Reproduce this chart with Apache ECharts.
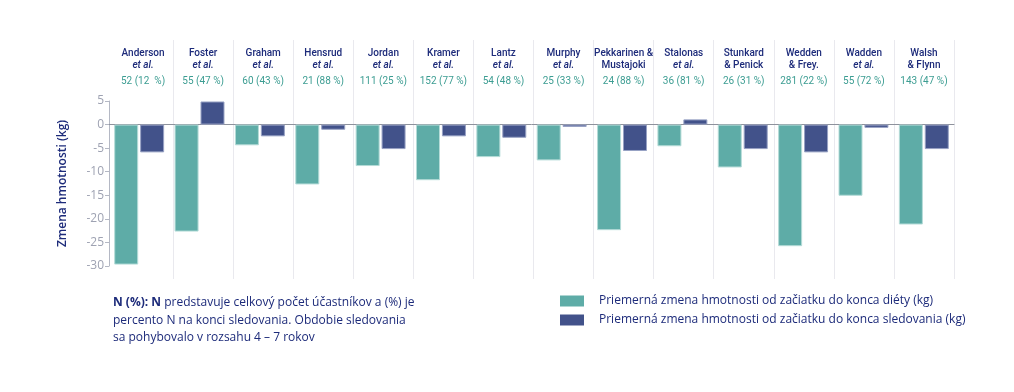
<!DOCTYPE html>
<html>
<head>
<meta charset="utf-8">
<script src="https://cdn.jsdelivr.net/npm/echarts@6/dist/echarts.min.js"></script>
<style>
html,body{margin:0;padding:0;background:#fff;}
#chart{width:1014px;height:392px;}
</style>
</head>
<body>
<div id="chart"></div>
<script>
// ---- data ----
const categories = ['Anderson','Foster','Graham','Hensrud','Jordan','Kramer','Lantz','Murphy','Pekkarinen & Mustajoki','Stalonas','Stunkard & Penick','Wedden & Frey.','Wadden','Walsh & Flynn'];
const nameLine1 = ['Anderson','Foster','Graham','Hensrud','Jordan','Kramer','Lantz','Murphy','Pekkarinen &','Stalonas','Stunkard','Wedden','Wadden','Walsh'];
const nameLine2 = ['et al.','et al.','et al.','et al.','et al.','et al.','et al.','et al.','Mustajoki','et al.','& Penick','& Frey.','et al.','& Flynn'];
const nLabels = ['52 (12  %)','55 (47 %)','60 (43 %)','21 (88 %)','111 (25 %)','152 (77 %)','54 (48 %)','25 (33 %)','24 (88 %)','36 (81 %)','26 (31 %)','281 (22 %)','55 (72 %)','143 (47 %)'];
const dietChange = [-29.7,-22.7,-4.4,-12.7,-8.8,-11.8,-6.9,-7.6,-22.4,-4.6,-9.1,-25.8,-15.1,-21.2];
const followChange = [-5.9,4.9,-2.5,-1.1,-5.2,-2.5,-2.8,-0.5,-5.6,1.1,-5.2,-5.9,-0.7,-5.2];
const yTicks = {min:-30, max:5, interval:5};
const seriesNames = ['Priemerná zmena hmotnosti od začiatku do konca diéty (kg)','Priemerná zmena hmotnosti od začiatku do konca sledovania (kg)'];
const yAxisTitle = 'Zmena hmotnosti (kg)';
const footnote = ['{b|N (%): N} predstavuje celkový počet účastníkov a (%) je','percento N na konci sledovania. Obdobie sledovania','sa pohybovalo v rozsahu 4 – 7 rokov'];

const navy = '#1d2b7a';
const teal = '#5eaca7';
const blue = '#42528a';
const tealText = '#3c9d92';
const font = '"Open Sans", "Noto Sans", sans-serif';
const headFont = 'Roboto, "Open Sans", sans-serif';

const chart = echarts.init(document.getElementById('chart'), null, {renderer:'canvas'});
chart.setOption({
  animation:false,
  textStyle:{fontFamily:font},
  title:{
    left:113, top:294, padding:0,
    text: footnote.join('\n'),
    textStyle:{
      fontFamily:font, fontSize:12, fontWeight:'normal', color:navy, lineHeight:17.5,
      rich:{ b:{fontFamily:font, fontSize:12, fontWeight:'bold', color:navy, lineHeight:17.5} }
    }
  },
  legend:{
    orient:'vertical', left:560, top:295, padding:0,
    itemWidth:24, itemHeight:11, itemGap:7,
    icon:'rect',
    itemStyle:{borderWidth:0},
    textStyle:{fontFamily:font, fontSize:12, color:navy, padding:[0,0,0,10]},
    data:seriesNames
  },
  grid:[
    {left:109, right:60, top:101, bottom:126},
    {left:113, right:60, top:40, bottom:113}
  ],
  xAxis:[
    {type:'category', gridIndex:0, data:categories,
     axisLine:{show:true, onZero:true, lineStyle:{color:'#8e929c', width:1}},
     axisTick:{show:false}, axisLabel:{show:false}, splitLine:{show:false}},
    {type:'category', gridIndex:1, data:categories, position:'top',
     axisLine:{show:false}, axisTick:{show:false},
     splitLine:{show:true, interval:function(i){return i!==0;}, lineStyle:{color:'#e9e9ee', width:1}},
     axisLabel:{
       show:true, inside:true, interval:0, margin:7,
       formatter:function(v, i){
         const l2 = nameLine2[i];
         const l2s = l2==='et al.' ? 'i' : 'a';
         return '{a|'+nameLine1[i]+'}\n{'+l2s+'|'+l2+'}\n{n|'+nLabels[i]+'}';
       },
       rich:{
         a:{fontFamily:headFont, fontSize:10, fontWeight:500, color:navy, lineHeight:12.5, align:'center'},
         i:{fontFamily:headFont, fontSize:10, fontWeight:500, fontStyle:'italic', color:navy, lineHeight:12.5, align:'center'},
         n:{fontFamily:headFont, fontSize:10, color:tealText, lineHeight:19, align:'center'}
       }
     }}
  ],
  yAxis:[
    {type:'value', gridIndex:0, min:yTicks.min, max:yTicks.max, interval:yTicks.interval,
     name:yAxisTitle, nameLocation:'middle', nameGap:40,
     nameTextStyle:{fontFamily:font, fontSize:12, fontWeight:600, color:navy},
     axisLine:{show:true, lineStyle:{color:'#b4b8c4'}},
     axisTick:{show:true, length:4, lineStyle:{color:'#b4b8c4'}},
     axisLabel:{fontFamily:font, fontSize:12, color:'#9ea2b2', margin:5},
     splitLine:{show:false}},
    {type:'value', gridIndex:1, show:false}
  ],
  series:[
    {name:seriesNames[0], type:'bar', xAxisIndex:0, yAxisIndex:0, data:dietChange,
     barWidth:24, barGap:'8%',
     itemStyle:{color:teal, borderColor:'#b5dcd8', borderWidth:1}},
    {name:seriesNames[1], type:'bar', xAxisIndex:0, yAxisIndex:0, data:followChange,
     barWidth:24, barGap:'8%',
     itemStyle:{color:blue, borderColor:'#98a2c4', borderWidth:1}}
  ]
});
</script>
</body>
</html>
